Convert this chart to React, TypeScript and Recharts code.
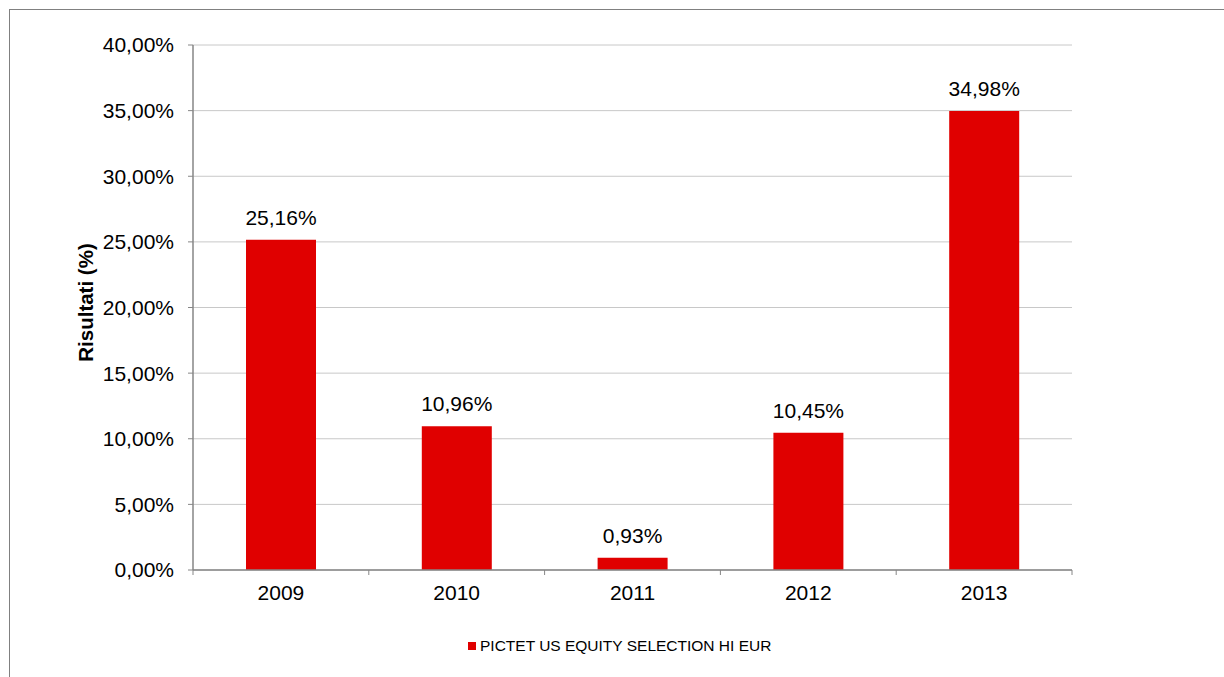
import React from "react";
import {
  Bar,
  BarChart,
  CartesianGrid,
  LabelList,
  Legend,
  XAxis,
  YAxis,
} from "recharts";

// Annual results
const years = ["2009", "2010", "2011", "2012", "2013"];
const results = [25.16, 10.96, 0.93, 10.45, 34.98];
const yTicks = [0, 5, 10, 15, 20, 25, 30, 35, 40];
const seriesName = "PICTET US EQUITY SELECTION HI EUR";

const chartData = years.map((year, i) => ({ year, value: results[i] }));

const WIDTH = 1224;
const HEIGHT = 677;
const MARGIN = { top: 45, right: 152, left: 0, bottom: 47 };
const Y_AXIS_W = 193;
const BAND = (WIDTH - MARGIN.left - MARGIN.right - Y_AXIS_W) / years.length;

const RED = "#E00000";
const AXIS = "#868686";
const GRID = "#C8C8C8";
const FONT = "'Liberation Sans', Arial, sans-serif";

const fmt = (v: number) => v.toFixed(2).replace(".", ",") + "%";

const YearTick = ({ x, y, payload, index }: any) => (
  <g>
    {index === 0 && (
      <line x1={x - BAND / 2} x2={x - BAND / 2} y1={y} y2={y + 5} stroke={AXIS} />
    )}
    <line x1={x + BAND / 2} x2={x + BAND / 2} y1={y} y2={y + 5} stroke={AXIS} />
    <text
      x={x}
      y={y + 30}
      textAnchor="middle"
      fill="#000"
      fontSize={21}
      fontFamily={FONT}
    >
      {payload.value}
    </text>
  </g>
);

const LegendContent = () => (
  <div
    style={{
      display: "flex",
      alignItems: "center",
      fontFamily: FONT,
      fontSize: 15.5,
      color: "#000",
      height: 20,
    }}
  >
    <span
      style={{ width: 8, height: 8, background: RED, marginRight: 4, display: "inline-block" }}
    />
    <span>{seriesName}</span>
  </div>
);

export default function App() {
  return (
    <div
      style={{
        position: "absolute",
        left: 0,
        top: 0,
        width: WIDTH,
        height: HEIGHT,
        background: "#fff",
        overflow: "hidden",
      }}
    >
      <div
        style={{
          position: "absolute",
          left: 9,
          top: 9,
          width: WIDTH - 9,
          height: HEIGHT - 9,
          borderLeft: "1px solid #808080",
          borderTop: "1px solid #808080",
          boxSizing: "border-box",
        }}
      />
      <BarChart
        width={WIDTH}
        height={HEIGHT}
        data={chartData}
        margin={MARGIN}
        barCategoryGap="30%"
        style={{ position: "absolute", left: 0, top: 0 }}
      >
        <CartesianGrid vertical={false} stroke={GRID} strokeWidth={1} />
        <XAxis
          dataKey="year"
          height={40}
          axisLine={{ stroke: AXIS, strokeWidth: 1.5 }}
          tickLine={false}
          tickSize={0}
          tickMargin={0}
          tick={<YearTick />}
          interval={0}
        />
        <YAxis
          width={Y_AXIS_W}
          domain={[0, 40]}
          ticks={yTicks}
          tickFormatter={fmt}
          axisLine={{ stroke: AXIS, strokeWidth: 1.5 }}
          tickLine={{ stroke: AXIS }}
          tickSize={5}
          tickMargin={14}
          tick={{ fill: "#000", fontSize: 21, fontFamily: FONT }}
          label={{
            value: "Risultati (%)",
            angle: -90,
            position: "insideLeft",
            dx: 81,
            dy: -5,
            style: {
              fontFamily: FONT,
              fontSize: 20.5,
              fontWeight: "bold",
              fill: "#000",
              textAnchor: "middle",
            },
          }}
        />
        <Legend
          verticalAlign="bottom"
          content={<LegendContent />}
          wrapperStyle={{ left: 468, bottom: 21, width: 400, height: 20 }}
        />
        <Bar
          dataKey="value"
          name={seriesName}
          fill={RED}
          barSize={70}
          isAnimationActive={false}
        >
          <LabelList
            dataKey="value"
            position="top"
            offset={15}
            formatter={(v: any) => fmt(Number(v))}
            style={{ fontFamily: FONT, fontSize: 21, fill: "#000" }}
          />
        </Bar>
      </BarChart>
    </div>
  );
}
